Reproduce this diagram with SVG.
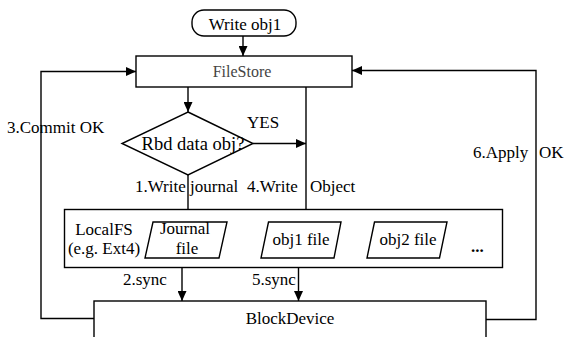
<svg xmlns="http://www.w3.org/2000/svg" width="569" height="337" viewBox="0 0 569 337" font-family="Liberation Serif">
<defs>
<marker id="arr" markerWidth="10" markerHeight="9" refX="10" refY="4.5" orient="auto" markerUnits="userSpaceOnUse">
<path d="M0,0 L10,4.5 L0,9 z" fill="#000"/>
</marker>
<style>
.s{fill:#fff;stroke:#000;stroke-width:1.4}
.lbl{font-family:'Liberation Serif',serif;font-size:17px;fill:#000}
.m{text-anchor:middle}
.c{fill:none;stroke:#000;stroke-width:1.4}
.fs{font-size:16px;fill:#444}
.q{font-size:18.5px}
.b{font-weight:bold}
</style>
</defs>
<rect width="569" height="337" fill="#fff"/>
<g id="connectors">
<path class="c" d="M243,36 V56" marker-end="url(#arr)"/>
<path class="c" d="M188,87 V112" marker-end="url(#arr)"/>
<path class="c" d="M253,143.5 H306" marker-end="url(#arr)"/>
<path class="c" d="M306,87 V222" marker-end="url(#arr)"/>
<path class="c" d="M188,175 V222" marker-end="url(#arr)"/>
<path class="c" d="M182,258 V301" marker-end="url(#arr)"/>
<path class="c" d="M298.5,258 V301" marker-end="url(#arr)"/>
<path class="c" d="M94,318.5 H41 V71.5 H136" marker-end="url(#arr)"/>
<path class="c" d="M486,319.5 H536 V70.5 H352" marker-end="url(#arr)"/>
<text class="lbl" x="247" y="128">YES</text>
<text class="lbl" x="135" y="192">1.Write journal</text>
<text class="lbl" x="247" y="192">4.Write<tspan x="310">Object</tspan></text>
<text class="lbl" x="7" y="133">3.Commit OK</text>
<text class="lbl" x="473" y="158">6.Apply<tspan x="539">OK</tspan></text>
<text class="lbl" x="123" y="285">2.sync</text>
<text class="lbl" x="252" y="285">5.sync</text>
</g>
<g id="write-obj1">
<rect class="s" x="192" y="10" width="104" height="26" rx="12"/>
<text class="lbl m" x="245" y="30">Write obj1</text>
</g>
<g id="filestore">
<rect class="s" x="136" y="56" width="216" height="31"/>
<text class="lbl m fs" x="242" y="77">FileStore</text>
</g>
<g id="decision">
<polygon class="s" points="188,112 253,143.5 188,175 122,143.5"/>
<text class="lbl m q" x="193" y="150">Rbd data obj?</text>
</g>
<g id="localfs">
<rect class="s" x="64.5" y="209.5" width="438" height="58"/>
<text class="lbl m" x="104" y="235">LocalFS</text>
<text class="lbl m" x="104" y="254">(e.g. Ext4)</text>
</g>
<g id="journal-file">
<polygon class="s" points="153,222 227,222 219,258 145,258"/>
<text class="lbl m" x="185" y="234">Journal</text>
<text class="lbl m" x="187" y="254">file</text>
</g>
<g id="obj1-file">
<polygon class="s" points="268.5,222 341,222 334,258 261,258"/>
<text class="lbl m" x="301" y="245">obj1 file</text>
</g>
<g id="obj2-file">
<polygon class="s" points="374.5,222 447,222 439.5,258 367,258"/>
<text class="lbl m" x="408" y="245">obj2 file</text>
</g>
<g id="more">
<text class="lbl b" x="471" y="252">...</text>
</g>
<g id="blockdevice">
<rect class="s" x="94" y="301" width="392" height="45"/>
<text class="lbl m" x="290" y="324">BlockDevice</text>
</g>
</svg>
